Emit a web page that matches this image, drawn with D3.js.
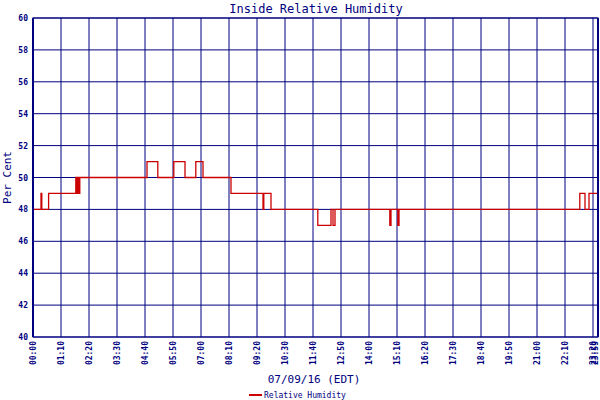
<!DOCTYPE html><html><head><meta charset="utf-8">
<script src="https://d3js.org/d3.v7.min.js"></script>
<style>body{margin:0;background:#fff}svg{display:block}</style></head><body>
<svg id="c" width="600" height="400"></svg>
<script>
const times = ["00:00","00:20","00:22","00:39","01:47","01:50","01:52","01:55","01:57","04:45","05:12","05:52","06:20","06:47","07:05","08:15","09:35","09:37","09:55","11:52","12:25","12:30","12:35","14:52","14:55","15:12","15:15","22:47","23:00","23:10","23:59"];
const values = [48,49,48,49,50,49,50,49,50,51,50,51,50,51,50,49,48,49,48,47,48,47,48,47,48,47,48,49,48,49,49];
const yTicks = [40,42,44,46,48,50,52,54,56,58,60];
const xTickLabels = ["00:00","01:10","02:20","03:30","04:40","05:50","07:00","08:10","09:20","10:30","11:40","12:50","14:00","15:10","16:20","17:30","18:40","19:50","21:00","22:10","23:20","23:59"];
const toMin = s => { const [h,m] = s.split(":").map(Number); return h*60+m; };
const svg = d3.select("#c");
const L=33,R=598,T=18,B=337, navy="#000080";
const x = d3.scaleLinear().domain([0,1400,1439]).range([L,593,R]);
const y = d3.scaleLinear().domain([40,60]).range([B,T]);
const font="DejaVu Sans Mono, monospace";
svg.append("text").attr("x",316).attr("y",13).attr("text-anchor","middle").attr("font-family",font).attr("font-size",12).attr("fill",navy).text("Inside Relative Humidity");
const g=svg.append("g");
yTicks.forEach(v=>{
  g.append("line").attr("x1",L).attr("x2",R).attr("y1",y(v)).attr("y2",y(v)).attr("stroke",navy).attr("stroke-width",1);
  g.append("text").attr("x",28).attr("y",y(v)+3).attr("text-anchor","end").attr("font-family",font).attr("font-size",8).attr("font-weight","bold").attr("fill",navy).text(v);
});
xTickLabels.forEach(s=>{
  const xx=x(toMin(s));
  g.append("line").attr("x1",xx).attr("x2",xx).attr("y1",T).attr("y2",B).attr("stroke",navy).attr("stroke-width",1);
  g.append("text").attr("transform",`translate(${Math.min(xx+3,598)},${B+4}) rotate(-90)`).attr("text-anchor","end").attr("font-family",font).attr("font-size",8).attr("font-weight","bold").attr("fill",navy).text(s);
});
const data = times.map((t,i)=>({t:toMin(t),v:values[i]}));
svg.append("path").datum(data).attr("d",d3.line().x(d=>x(d.t)).y(d=>y(d.v)).curve(d3.curveStepAfter)).attr("fill","none").attr("stroke","#cc0000").attr("stroke-width",1.3);
svg.append("rect").attr("x",L).attr("y",T).attr("width",R-L).attr("height",B-T).attr("fill","none").attr("stroke",navy).attr("stroke-width",1);
svg.append("line").attr("x1",L).attr("x2",L).attr("y1",T).attr("y2",B).attr("stroke",navy).attr("stroke-width",2);
svg.append("line").attr("x1",R).attr("x2",R).attr("y1",T).attr("y2",B).attr("stroke",navy).attr("stroke-width",2);
svg.append("text").attr("transform",`translate(11,${(T+B)/2}) rotate(-90)`).attr("text-anchor","middle").attr("font-family",font).attr("font-size",11).attr("fill",navy).text("Per Cent");
svg.append("text").attr("x",314).attr("y",383).attr("text-anchor","middle").attr("font-family",font).attr("font-size",11).attr("fill",navy).text("07/09/16 (EDT)");
svg.append("line").attr("x1",249).attr("x2",262).attr("y1",395).attr("y2",395).attr("stroke","#cc0000").attr("stroke-width",2);
svg.append("text").attr("x",264).attr("y",398).attr("font-family",font).attr("font-size",8).attr("fill",navy).text("Relative Humidity");
</script></body></html>
